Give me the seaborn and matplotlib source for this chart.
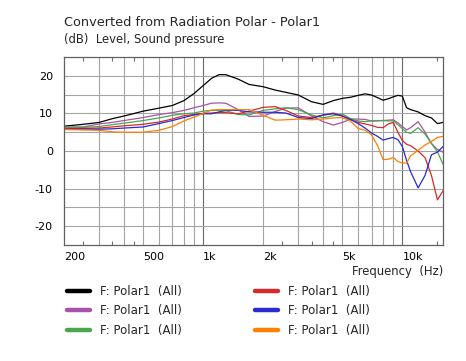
import numpy as np
import pandas as pd
import seaborn as sns
import matplotlib
matplotlib.use("Agg")
from matplotlib import pyplot as plt
from matplotlib.lines import Line2D
from matplotlib.ticker import FixedLocator, NullFormatter

# frequency grid (Hz)
FREQ = [200, 250, 300, 350, 400, 500, 600, 700, 800, 900,
        1000, 1100, 1200, 1300, 1500, 1700, 2000, 2300, 2600, 3000,
        3500, 4000, 4500, 5000, 5500, 6000, 6500, 7000, 7500, 8000,
        8500, 9000, 9500, 10000, 10500, 11000, 12000, 13000, 14000, 15000, 16000]

# levels (dB)
BLACK = [6.6, 7.1, 7.6, 8.6, 9.3, 10.6, 11.4, 12.1, 13.4, 15.3,
         17.4, 19.3, 20.3, 20.3, 19.1, 17.7, 17.1, 16.2, 15.6, 14.9,
         13.1, 12.4, 13.4, 14.0, 14.3, 14.8, 15.2, 14.9, 14.2, 13.5,
         13.9, 14.4, 14.8, 14.6, 11.5, 11.0, 10.4, 9.4, 8.8, 7.3, 7.6]
PURPLE = [6.4, 6.4, 7.2, 7.6, 8.1, 8.9, 9.7, 10.2, 10.8, 11.5,
          12.1, 12.7, 12.8, 12.7, 11.0, 9.2, 9.3, 10.5, 11.4, 11.5,
          9.3, 7.8, 6.9, 7.6, 8.5, 8.5, 8.4, 8.0, 8.0, 8.1,
          8.2, 8.3, 7.5, 6.5, 5.6, 6.2, 7.8, 5.0, 2.0, 0.4, -0.3]
GREEN = [6.2, 6.3, 6.5, 7.0, 7.4, 8.1, 8.8, 9.5, 9.9, 10.1,
         10.6, 10.8, 10.8, 10.7, 9.7, 9.6, 10.8, 11.2, 11.5, 11.0,
         9.6, 8.8, 9.4, 9.8, 8.6, 8.0, 7.8, 8.0, 8.1, 8.1,
         8.0, 8.0, 7.0, 5.9, 5.0, 4.7, 6.2, 4.5, 2.0, -0.2, -3.5]
RED = [5.9, 6.0, 6.1, 6.4, 6.7, 7.1, 7.7, 8.5, 9.4, 9.7,
       10.0, 10.1, 10.2, 10.2, 9.9, 10.6, 11.6, 11.8, 10.8, 9.3,
       8.9, 9.5, 10.1, 9.3, 8.3, 7.6, 7.2, 6.8, 6.3, 6.2,
       7.2, 7.6, 5.0, 2.8, 1.8, 1.4, 0.0, -1.8, -6.5, -13.0, -10.6]
BLUE = [5.8, 5.8, 5.8, 5.9, 6.1, 6.4, 7.3, 8.1, 8.9, 9.6,
        9.9, 9.9, 10.4, 10.8, 10.8, 10.4, 10.3, 10.3, 10.1, 8.9,
        8.6, 9.6, 9.9, 9.3, 8.4, 7.3, 6.1, 4.8, 3.9, 2.9,
        3.3, 3.6, 3.0, 1.2, -2.5, -5.5, -9.8, -6.5, -1.0, -0.3, 1.2]
ORANGE = [5.7, 5.6, 5.5, 5.1, 5.0, 5.0, 5.5, 6.5, 8.0, 9.0,
          10.0, 10.9, 11.0, 11.0, 11.0, 11.0, 9.5, 8.2, 8.3, 8.5,
          8.3, 8.5, 8.8, 8.9, 7.9, 6.0, 5.5, 4.3, 1.5, -2.3,
          -2.2, -1.7, -2.8, -3.2, -3.2, -1.3, 0.2, 1.6, 2.5, 3.6, 3.9]

SERIES = {"black": BLACK, "purple": PURPLE, "green": GREEN,
          "red": RED, "blue": BLUE, "orange": ORANGE}
COLORS = {"black": "#000000", "purple": "#a852a8", "green": "#4ca64c",
          "red": "#d42a2a", "blue": "#2a2ad4", "orange": "#ff7f00"}
LEGEND_LABEL = "F: Polar1  (All)"

XTICK_POS = [200, 500, 1000, 2000, 5000, 10000]
XTICK_LAB = ["200", "500", "1k", "2k", "5k", "10k"]
YTICK_POS = [-20, -10, 0, 10, 20]

df = pd.concat([pd.DataFrame({"freq": FREQ, "db": v, "curve": k}) for k, v in SERIES.items()])

sns.set_style("white")
plt.rcParams['font.family'] = ['DejaVu Sans']

fig = plt.figure(figsize=(4.66, 3.61), dpi=100)
ax = fig.add_axes([64 / 466, 1 - 245 / 361, 379 / 466, 188 / 361])

sns.lineplot(data=df, x="freq", y="db", hue="curve", palette=COLORS,
             linewidth=0.9, legend=False, ax=ax, sort=False)

ax.set_xscale("log")
ax.set_xlim(200, 16000)
ax.set_ylim(-25, 25)

# grid lines
vgrid = [f * 100 for f in range(3, 10)] + [f * 1000 for f in range(1, 11)]
ax.xaxis.set_major_locator(FixedLocator(XTICK_POS))
ax.set_xticklabels(XTICK_LAB, ha="left")
ax.xaxis.set_minor_locator(FixedLocator([250, 350, 450, 2500, 3500, 4500, 15000]))
ax.xaxis.set_minor_formatter(NullFormatter())
for f in vgrid:
    col = "#6a6a6a" if f in (1000, 10000) else "#a4a4a4"
    ax.axvline(f, color=col, lw=0.8, zorder=0)
for y in range(-20, 25, 5):
    ax.axhline(y, color="#a4a4a4", lw=0.8, zorder=0)

ax.set_yticks(YTICK_POS)
ax.set_yticklabels([str(v) for v in YTICK_POS])
ax.tick_params(axis="both", which="major", length=0, labelsize=8, colors="#000000")
ax.tick_params(axis="x", which="major", pad=5)
ax.tick_params(axis="y", which="major", pad=8)
ax.tick_params(axis="x", which="minor", length=3, direction="in", top=True, bottom=True,
               color="#707070", width=0.8)
for s in ax.spines.values():
    s.set_color("#606060")
    s.set_linewidth(0.9)

ax.set_xlabel("Frequency  (Hz)", loc="right", fontsize=8.4, labelpad=2)
ax.set_ylabel("")

fig.text(64 / 466, 1 - 26 / 361, "Converted from Radiation Polar - Polar1",
         fontsize=9.3, va="baseline", ha="left")
fig.text(64 / 466, 1 - 43 / 361, "(dB)  Level, Sound pressure",
         fontsize=8.4, va="baseline", ha="left")

handles = [Line2D([0], [0], color=COLORS[k], lw=3.2) for k in SERIES]
fig.legend(handles, [LEGEND_LABEL] * 6, ncol=2, frameon=False, fontsize=8.5,
           loc="upper left", bbox_to_anchor=(62 / 466, 1 - 280 / 361),
           handlelength=1.95, handletextpad=0.85, columnspacing=6.2,
           labelspacing=0.55, borderaxespad=0)

fig.savefig("out.png", dpi=100)
